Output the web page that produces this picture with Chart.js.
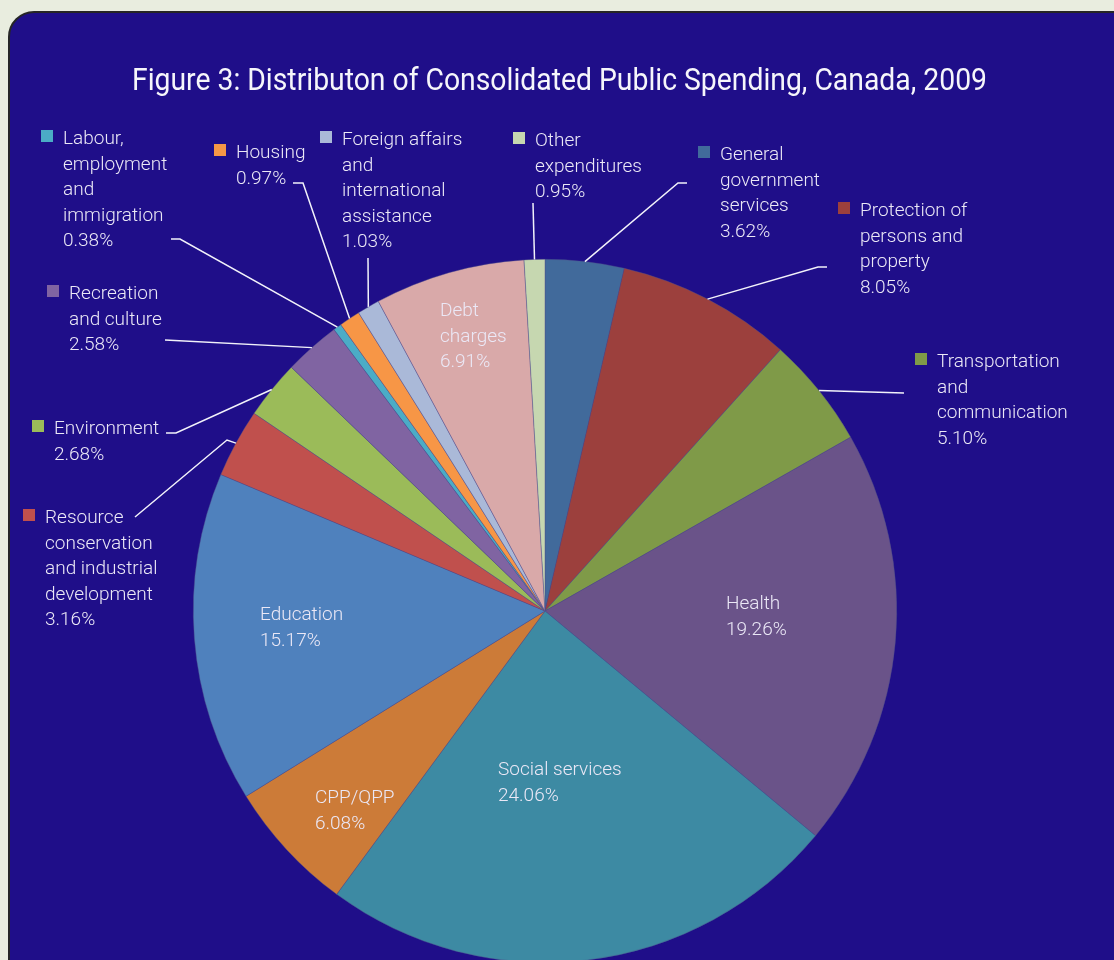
<!DOCTYPE html>
<html>
<head>
<meta charset="utf-8">
<title>Consolidated Public Spending, Canada, 2009</title>
<script src="https://cdn.jsdelivr.net/npm/chart.js@4.4.0/dist/chart.umd.min.js"></script>
<style>
  html, body { margin: 0; padding: 0; width: 1114px; height: 960px; overflow: hidden; background: #e9eddf; }
  #panel {
    position: absolute; left: 8px; top: 11px; width: 1200px; height: 1100px;
    background: #1f0e89; border: 2px solid #262626; border-radius: 26px; box-sizing: border-box;
  }
  #pie { position: absolute; left: 0; top: 0; }
</style>
</head>
<body>
<div id="panel"></div>
<canvas id="pie" width="1114" height="1000"></canvas>
<script>
const chartTitle = 'Figure 3: Distributon of Consolidated Public Spending, Canada, 2009';

const categories = [
    'General government services',
    'Protection of persons and property',
    'Transportation and communication',
    'Health',
    'Social services',
    'CPP/QPP',
    'Education',
    'Resource conservation and industrial development',
    'Environment',
    'Recreation and culture',
    'Labour, employment and immigration',
    'Housing',
    'Foreign affairs and international assistance',
    'Debt charges',
    'Other expenditures'
];

// share of total spending, %
const shares = [3.62, 8.05, 5.10, 19.26, 24.06, 6.08, 15.17, 3.16, 2.68, 2.58, 0.38, 0.97, 1.03, 6.91, 0.95];

const sliceColors = [
    '#416a9b', '#9c403d', '#7f9a48', '#6a5389', '#3d8aa3',
    '#cc7b38', '#4f81bd', '#c0504d', '#9bbb59', '#8064a2',
    '#4bacc6', '#f79646', '#aab9d8', '#d9a9a9', '#c6d7b0'
];

// how each label is broken over lines
const labelLines = [
    ['General', 'government', 'services'],
    ['Protection of', 'persons and', 'property'],
    ['Transportation', 'and', 'communication'],
    ['Health'],
    ['Social services'],
    ['CPP/QPP'],
    ['Education'],
    ['Resource', 'conservation', 'and industrial', 'development'],
    ['Environment'],
    ['Recreation', 'and culture'],
    ['Labour,', 'employment', 'and', 'immigration'],
    ['Housing'],
    ['Foreign affairs', 'and', 'international', 'assistance'],
    ['Debt', 'charges'],
    ['Other', 'expenditures']
];

// label placement: text x, first baseline, whether it gets a key square, leader line bends
const labelPlaces = [
    { x: 720, y: 160, key: true, leader: [[678, 183], [687, 183]] },
    { x: 860, y: 216, key: true, leader: [[818, 267], [827, 267]] },
    { x: 937, y: 367, key: true, leader: [[904, 393]] },
    { x: 726, y: 609, key: false },
    { x: 498, y: 775, key: false },
    { x: 315, y: 803, key: false },
    { x: 260, y: 620, key: false },
    { x: 45, y: 523, key: true, leader: [[227, 440], [135, 517]] },
    { x: 54, y: 434, key: true, leader: [[176, 433], [166, 433]] },
    { x: 69, y: 299, key: true, leader: [[165, 340]] },
    { x: 63, y: 144, key: true, leader: [[180, 239], [171, 239]] },
    { x: 236, y: 158, key: true, leader: [[303, 183], [293, 183]] },
    { x: 342, y: 145, key: true, leader: [[368, 258]] },
    { x: 440, y: 316, key: false },
    { x: 535, y: 146, key: true, leader: [[533, 203]] }
];

const LINE_H = 25.6;
const LABEL_FONT = '300 19px Roboto, "Noto Sans", sans-serif';

const labelPlugin = {
    id: 'spendingLabels',
    afterDatasetsDraw(chart) {
        const ctx = chart.ctx;
        const arcs = chart.getDatasetMeta(0).data;

        ctx.save();

        // title, squeezed to the narrow face of the original
        ctx.font = '31px Roboto, "Noto Sans", sans-serif';
        ctx.fillStyle = '#f6f6fb';
        ctx.textBaseline = 'alphabetic';
        ctx.textAlign = 'left';
        const tw = ctx.measureText(chartTitle).width;
        const sx = 855 / tw;
        ctx.save();
        ctx.translate(132, 90);
        ctx.scale(sx, 1);
        ctx.fillText(chartTitle, 0, 0);
        ctx.restore();

        // leader lines from the middle of each slice edge
        ctx.strokeStyle = '#f2f2fa';
        ctx.lineWidth = 1.5;
        labelPlaces.forEach((p, i) => {
            if (!p.leader) return;
            const a = arcs[i].getProps(['x', 'y', 'startAngle', 'endAngle', 'outerRadius'], true);
            const mid = (a.startAngle + a.endAngle) / 2;
            ctx.beginPath();
            ctx.moveTo(a.x + Math.cos(mid) * a.outerRadius, a.y + Math.sin(mid) * a.outerRadius);
            p.leader.forEach(pt => ctx.lineTo(pt[0], pt[1]));
            ctx.stroke();
        });

        // label text and key squares
        ctx.font = LABEL_FONT;
        labelPlaces.forEach((p, i) => {
            if (p.key) {
                ctx.fillStyle = sliceColors[i];
                ctx.fillRect(p.x - 22, p.y - 14, 12, 12);
            }
            ctx.fillStyle = '#ebe8f6';
            const lines = labelLines[i].concat([shares[i].toFixed(2) + '%']);
            lines.forEach((txt, k) => {
                ctx.fillText(txt, p.x, p.y + k * LINE_H);
            });
        });

        ctx.restore();
    }
};

const ctx = document.getElementById('pie').getContext('2d');
const pieChart = new Chart(ctx, {
    type: 'pie',
    data: {
        labels: categories,
        datasets: [{
            data: shares,
            backgroundColor: sliceColors,
            borderColor: 'rgba(80, 80, 140, 0.7)',
            borderWidth: 0.6
        }]
    },
    options: {
        responsive: false,
        animation: false,
        devicePixelRatio: 1,
        layout: {
            padding: { left: 193, top: 259, right: 217, bottom: 37 }
        },
        plugins: {
            legend: { display: false },
            tooltip: { enabled: false },
            title: { display: false }
        }
    },
    plugins: [labelPlugin]
});
</script>
</body>
</html>
